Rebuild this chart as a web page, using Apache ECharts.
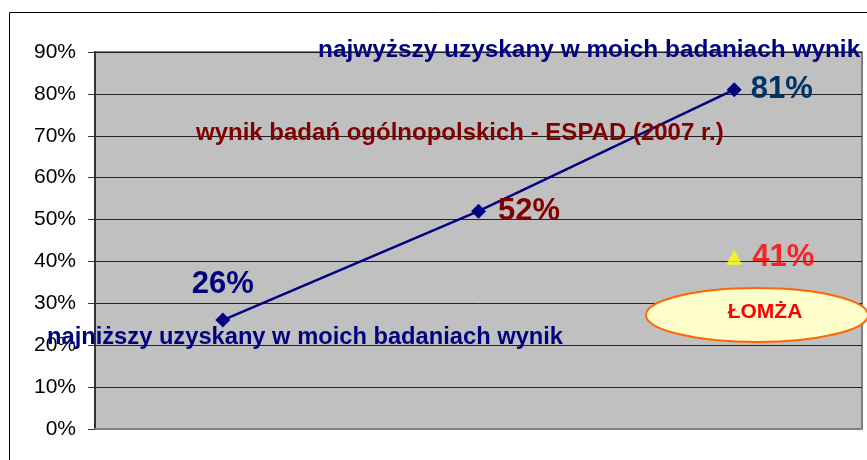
<!DOCTYPE html>
<html>
<head>
<meta charset="utf-8">
<script src="https://cdn.jsdelivr.net/npm/echarts@6/dist/echarts.min.js"></script>
<style>
  html, body { margin: 0; padding: 0; background: #fff; }
  #chart { width: 867px; height: 460px; }
</style>
</head>
<body>
<div id="chart"></div>
<script>
// kategorie (bez podpisów na osi)
var categories = ['najniższy', 'ESPAD (2007 r.)', 'najwyższy']
// wyniki w procentach
var lineValues = [26, 52, 81]
var lomzaValues = ['-', '-', 41]
var yTicks = { min: 0, max: 90, interval: 10 }

var FONT = '"Liberation Sans", Arial, sans-serif'

var myChart = echarts.init(document.getElementById('chart'))

var option = {
  animation: false,
  backgroundColor: '#ffffff',
  grid: {
    left: 95,
    right: 5,
    top: 52,
    bottom: 31,
    show: true,
    backgroundColor: '#C0C0C0',
    borderColor: '#808080',
    borderWidth: 2
  },
  xAxis: {
    type: 'category',
    data: categories,
    boundaryGap: true,
    axisLine: { show: true, lineStyle: { color: '#808080', width: 2 } },
    axisTick: { show: false },
    axisLabel: { show: false },
    splitLine: { show: false }
  },
  yAxis: {
    type: 'value',
    min: yTicks.min,
    max: yTicks.max,
    interval: yTicks.interval,
    axisLine: { show: true, lineStyle: { color: '#333', width: 2 } },
    axisTick: { show: true, length: 7, lineStyle: { color: '#333', width: 1 } },
    axisLabel: {
      formatter: '{value}%',
      color: '#000',
      fontFamily: FONT,
      fontSize: 21,
      margin: 19
    },
    splitLine: { show: true, lineStyle: { color: '#222', width: 1 } }
  },
  series: [
    {
      name: 'wynik',
      type: 'line',
      data: lineValues.map(function (v, i) {
        var labels = [
          { position: 'top', distance: 13, color: '#000080' },
          { position: 'right', distance: 12, color: '#800000' },
          { position: 'right', distance: 9, color: '#003366' }
        ]
        return { value: v, label: labels[i] }
      }),
      symbol: 'diamond',
      symbolSize: 15,
      itemStyle: { color: '#000080' },
      lineStyle: { color: '#000080', width: 2.5 },
      label: {
        show: true,
        formatter: '{c}%',
        fontFamily: FONT,
        fontWeight: 'bold',
        fontSize: 31
      },
      z: 3
    },
    {
      name: 'ŁOMŻA',
      type: 'scatter',
      data: lomzaValues,
      symbol: 'triangle',
      symbolSize: [16, 15],
      itemStyle: { color: '#FFFF00' },
      label: {
        show: true,
        position: 'right',
        distance: 10,
        formatter: '{c}%',
        color: '#FF0000',
        fontFamily: FONT,
        fontWeight: 'bold',
        fontSize: 31
      },
      z: 3
    }
  ],
  graphic: [
    {
      type: 'rect',
      shape: { x: 9.5, y: 12.5, width: 900, height: 500 },
      style: { fill: 'none', stroke: '#000', lineWidth: 1 },
      silent: true,
      z: 0
    },
    {
      type: 'text',
      x: 318,
      y: 50,
      style: {
        text: 'najwyższy uzyskany w moich badaniach wynik',
        fill: '#000080',
        font: 'bold 24.4px ' + FONT,
        textVerticalAlign: 'middle'
      },
      z: 10
    },
    {
      type: 'text',
      x: 196,
      y: 133,
      style: {
        text: 'wynik badań ogólnopolskich - ESPAD (2007 r.)',
        fill: '#800000',
        font: 'bold 24px ' + FONT,
        textVerticalAlign: 'middle'
      },
      z: 10
    },
    {
      type: 'text',
      x: 47,
      y: 337,
      style: {
        text: 'najniższy uzyskany w moich badaniach wynik',
        fill: '#000080',
        font: 'bold 23.7px ' + FONT,
        textVerticalAlign: 'middle'
      },
      z: 10
    },
    {
      type: 'ellipse',
      shape: { cx: 757, cy: 315, rx: 111, ry: 27 },
      style: { fill: '#FFFFCC', stroke: '#FF6600', lineWidth: 2 },
      z: 10
    },
    {
      type: 'text',
      x: 765,
      y: 312,
      style: {
        text: 'ŁOMŻA',
        fill: '#FF0000',
        font: 'bold 21px ' + FONT,
        textAlign: 'center',
        textVerticalAlign: 'middle'
      },
      z: 11
    }
  ]
}

myChart.setOption(option)
</script>
</body>
</html>
